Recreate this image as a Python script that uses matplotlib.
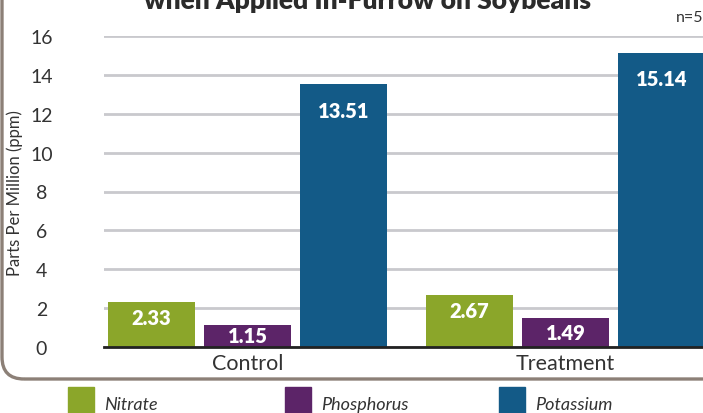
import matplotlib
matplotlib.use("Agg")
import matplotlib.pyplot as plt
from matplotlib.patches import FancyBboxPatch, Rectangle
import numpy as np

# data
groups = ["Control", "Treatment"]
series = ["Nitrate", "Phosphorus", "Potassium"]
nitrate = [2.33, 2.67]
phosphorus = [1.15, 1.49]
potassium = [13.51, 15.14]
colors = ["#8ba62a", "#5c2468", "#135a87"]

plt.rcParams['font.family'] = ['Lato', 'DejaVu Sans']

fig = plt.figure(figsize=(7.03, 4.14), dpi=100)
ax = fig.add_axes([104 / 703, 1 - 348 / 414, 1 - 104 / 703, (348 - 37) / 414])

x = np.arange(len(groups))
width = 0.274
step = 0.302
for i, (name, vals) in enumerate(zip(series, [nitrate, phosphorus, potassium])):
    b = ax.bar(x + (i - 1) * step, vals, width, color=colors[i], label=name, zorder=3)
    for rect, v in zip(b, vals):
        yl = v - 1.35 if v > 5 else max(v - 0.8, v / 2)
        ax.text(rect.get_x() + rect.get_width() / 2, yl, f"{v:.2f}",
                ha='center', va='center', color='white', fontsize=14.5,
                fontweight='heavy', zorder=4)

ax.set_ylim(0, 16)
ax.set_xlim(-0.451, 1.432)
ax.set_yticks(range(0, 17, 2))
ax.set_xticks(x)
ax.set_xticklabels(groups, fontsize=15.5, color='#333333')
ax.tick_params(axis='x', length=0, pad=4)
ax.tick_params(axis='y', length=0, labelsize=14, labelcolor='#333333', pad=45)
for lab in ax.get_yticklabels():
    lab.set_horizontalalignment('center')
ax.yaxis.grid(True, color='#c9c9cd', lw=2, zorder=0)
for s in ['top', 'right', 'left']:
    ax.spines[s].set_visible(False)
ax.spines['bottom'].set_linewidth(2)
ax.spines['bottom'].set_color('#222222')
ax.spines['bottom'].set_zorder(5)
fig.text(15 / 703, 1 - 193 / 414, "Parts Per Million (ppm)", rotation=90,
         ha='center', va='center', fontsize=12, color='#333333')

# title (cut at top, as in the source) and n
fig.text(368 / 703, 1 - 9 / 414, "when Applied In-Furrow on Soybeans", ha='center',
         va='baseline', fontsize=19, fontweight='heavy', color='#2b2b2b')
fig.text(1.0, 1 - 18 / 414, "n=5", ha='right', va='center', fontsize=11.5, color='#333333')

# border box
box = FancyBboxPatch((0.02, 0.34), 8, 5, boxstyle="round,pad=0,rounding_size=0.22",
                     transform=fig.dpi_scale_trans, fill=False, ec='#8c8077', lw=2.4)
fig.patches.append(box)

# legend below the box
leg_x = [68, 285, 499]
for name, c, lx in zip(series, colors, leg_x):
    fig.patches.append(Rectangle((lx / 703, 0), 26 / 703, 26 / 414,
                                 transform=fig.transFigure, color=c))
    fig.text((lx + 36) / 703, 1 - 405 / 414, name, ha='left', va='center',
             fontsize=13, style='italic', color='#333333')

fig.savefig("out.png", dpi=100)
